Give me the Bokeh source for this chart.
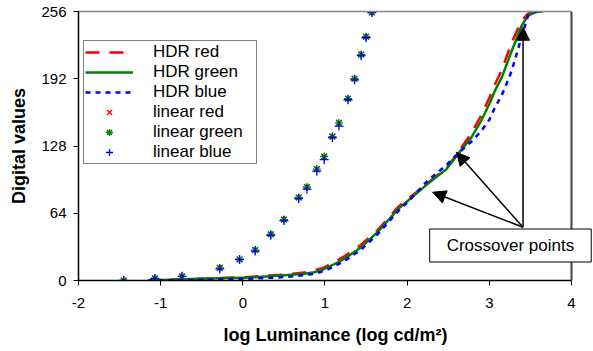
from bokeh.plotting import figure
from bokeh.models import (Range1d, FixedTicker, Legend, LegendItem, Span, Label,
                          Arrow, NormalHead, LinearAxis)
from bokeh.embed import file_html
from bokeh.resources import INLINE

# ---- data ----
hdr_x = [-1.15, -0.8, -0.4, 0.0, 0.46, 0.75, 0.87, 0.99, 1.1, 1.235, 1.44, 1.64, 1.89,
         2.01, 2.13, 2.25, 2.48, 2.62, 2.78, 2.90, 3.0, 3.07, 3.15, 3.27, 3.39, 3.47,
         3.57, 3.65]
hdr_red = [0, 1, 2, 3, 5.5, 7.5, 9.5, 12.5, 17, 23, 34, 48, 70, 78, 85, 93, 107, 122,
           140, 157, 174, 187, 200, 226, 247, 254, 256, 256]
hdr_green = [0, 1, 2, 2.5, 4.8, 6.5, 7.9, 11, 15, 20.6, 31.7, 46, 68, 76, 84, 92, 106,
             120.5, 136, 152, 168, 181, 193, 218, 242, 252, 255.6, 256]
hdr_blue = [0, 0.5, 1, 1.5, 3, 5, 6.5, 9, 13, 18.5, 29.5, 44, 66, 75, 85, 95, 110, 121,
            132, 142, 153, 165, 176, 199, 231, 252, 256, 256]

lin_x = [-1.45, -1.07, -0.74, -0.28, -0.04, 0.15, 0.34, 0.50, 0.68, 0.78, 0.90, 0.99,
         1.09, 1.17, 1.28, 1.36, 1.44, 1.50, 1.57]
lin_red = [0, 2, 4, 12, 20, 29, 44, 58, 79, 89, 106, 118, 137, 150, 173, 192, 215, 232, 255]
lin_green = [0, 2, 4, 12, 20, 29, 44, 58, 79, 89, 106, 118, 137, 150, 173, 192, 215, 232, 255]
lin_blue = [0, 2, 4, 11, 20, 28, 43, 57, 78, 87, 104, 115, 136, 147, 172, 191, 214, 231, 255]

x_ticks = [-2, -1, 0, 1, 2, 3, 4]
x_tick_labels = ["-2", "-1", "0", "1", "2", "3", "4"]
y_ticks = [0, 64, 128, 192, 256]

arrow_tail = (3.41, 50.7)
arrow_tips_x = [2.60, 2.31, 3.41]
arrow_tips_y = [122, 84, 241]

FONT = "Liberation Sans"
X_MIN, X_MAX = -2, 4
X_VIEW_END = 4.2556   # frame extends a little past the axis so the note box fits

p = figure(width=593, height=351, output_backend="svg", toolbar_location=None,
           x_range=Range1d(X_MIN, X_VIEW_END), y_range=Range1d(0, 256),
           min_border_left=78, min_border_right=1, min_border_top=11,
           min_border_bottom=71)
p.outline_line_color = None
p.xgrid.visible = False
p.ygrid.visible = False
p.background_fill_color = "white"

for ax, ticks in ((p.xaxis[0], x_ticks), (p.yaxis[0], y_ticks)):
    ax.ticker = FixedTicker(ticks=ticks)
    ax.minor_tick_line_color = None
    ax.major_tick_in = 0
    ax.major_tick_out = 5
    ax.axis_line_color = "black"
    ax.axis_line_width = 1.5
    ax.major_tick_line_color = "black"
    ax.major_tick_line_width = 1
    ax.major_label_text_font = FONT
    ax.major_label_text_font_size = "15px"
    ax.major_label_text_color = "black"
    ax.axis_label_text_font = FONT
    ax.axis_label_text_font_size = "18px"
    ax.axis_label_text_font_style = "bold"
    ax.axis_label_text_color = "black"

p.xaxis.bounds = (X_MIN, X_MAX)
p.xaxis.major_label_overrides = {t: s for t, s in zip(x_ticks, x_tick_labels)}
p.xaxis.axis_label = "log Luminance (log cd/m\u00b2)"
p.yaxis.axis_label = "Digital values"
p.xaxis.major_label_standoff = 12
p.xaxis.axis_label_standoff = 14
p.yaxis.major_label_standoff = 7
p.yaxis.axis_label_standoff = 9

# frame top border (grey) limited to the axis extent
top = LinearAxis(ticker=FixedTicker(ticks=[]), bounds=(X_MIN, X_MAX),
                 axis_line_color="#888888", axis_line_width=1.5,
                 major_tick_line_color=None, minor_tick_line_color=None,
                 major_label_text_font_size="0px")
p.add_layout(top, "above")
# right border
p.add_layout(Span(location=X_MAX, dimension="height", line_color="#444444", line_width=2))

r_red = p.line(hdr_x, hdr_red, line_color="red", line_width=2.5, line_dash="14 10")
r_green = p.line(hdr_x, hdr_green, line_color="green", line_width=2.5)
r_blue = p.line(hdr_x, hdr_blue, line_color="blue", line_width=2.5, line_dash="5 5")

m_red = p.scatter(lin_x, lin_red, marker="x", size=8, line_color="red", line_width=1.3)
m_green = p.scatter(lin_x, lin_green, marker="asterisk", size=8, line_color="green",
                    line_width=1.3)
m_blue = p.scatter(lin_x, lin_blue, marker="cross", size=9, line_color="blue",
                   line_width=1.3)

for tx, ty in zip(arrow_tips_x, arrow_tips_y):
    p.add_layout(Arrow(end=NormalHead(size=13, fill_color="black", line_color="black"),
                       x_start=arrow_tail[0], y_start=arrow_tail[1], x_end=tx, y_end=ty,
                       line_color="black", line_width=1.5))

# padding order here: (left, right, top, bottom)
p.add_layout(Label(x=3.257, y=33.3, text="Crossover points", text_align="center",
                   text_baseline="middle", text_font=FONT, text_font_size="17px",
                   text_color="black", background_fill_color="white",
                   border_line_color="black", border_line_width=1,
                   padding=(17, 17, 7, 7)))

legend = Legend(items=[
    LegendItem(label="HDR red", renderers=[r_red]),
    LegendItem(label="HDR green", renderers=[r_green]),
    LegendItem(label="HDR blue", renderers=[r_blue]),
    LegendItem(label="linear red", renderers=[m_red]),
    LegendItem(label="linear green", renderers=[m_green]),
    LegendItem(label="linear blue", renderers=[m_blue]),
], location=(5, 116))
legend.label_text_font = FONT
legend.label_text_font_size = "17px"
legend.label_text_color = "black"
legend.label_height = 18
legend.glyph_height = 18
legend.glyph_width = 48
legend.label_width = 102
legend.label_standoff = 20
legend.spacing = 0
legend.padding = 1
legend.margin = 0
legend.border_line_color = "black"
legend.border_line_width = 1
legend.background_fill_color = "white"
legend.background_fill_alpha = 1
p.add_layout(legend)

open("out.html", "w").write(file_html(p, INLINE))
